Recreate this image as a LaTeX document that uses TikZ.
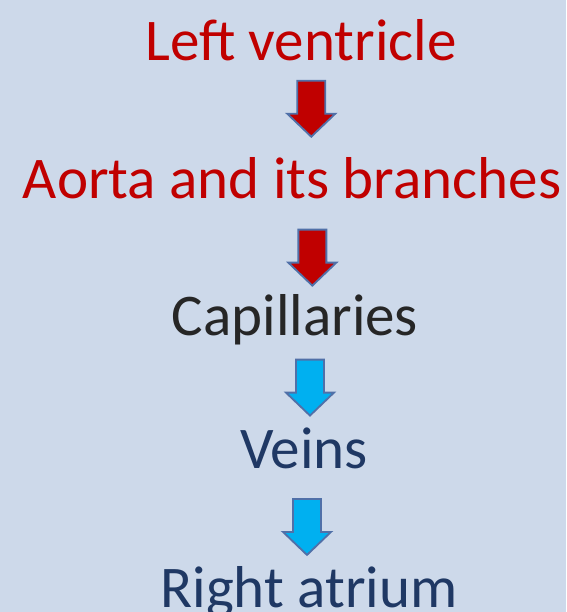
\documentclass[tikz,border=0pt]{standalone}
\usepackage{fontspec}
\setmainfont{Carlito}
\usepackage{xcolor}
\definecolor{panelbg}{HTML}{CDD9EA}
\definecolor{artred}{HTML}{C00000}
\definecolor{capgray}{HTML}{262626}
\definecolor{veinblue}{HTML}{1F3864}
\definecolor{flowblue}{HTML}{00B0F0}
\definecolor{arrowedge}{HTML}{5070A8}

\tikzset{
  stage/.style={font=\fontsize{42}{50}\selectfont, inner sep=0pt, anchor=base},
  flowarrow/.pic={\draw[pic actions, line width=1.3pt, line join=miter]
      (-14,-28) -- (14,-28) -- (14,5) -- (24,5) -- (0,28) -- (-24,5) -- (-14,5) -- cycle;},
}

\begin{document}
\begin{tikzpicture}[x=0.025cm, y=-0.025cm]

    % background
    \fill[panelbg] (0,0) rectangle (566,612);
    \useasboundingbox (0,0) rectangle (566,612);

    % stages of the circulation
    \node[stage, text=artred] (lv) at (301,60) {Left ventricle};
    \node[stage, text=artred] (ao) at (292,198) {Aorta and its branches};
    \node[stage, text=capgray] (cap) at (295,335) {Capillaries};
    \node[stage, text=veinblue] (vn) at (304,468) {Veins};
    \node[stage, text=veinblue] (ra) at (309,607) {Right atrium};

    % block arrows between stages
    \path ([xshift=6]lv.south) -- ([xshift=15]ao.north) pic[midway, fill=artred, draw=arrowedge] {flowarrow};
    \path ([xshift=15]ao.south) -- ([xshift=12]cap.north) pic[pos=.62, fill=artred, draw=arrowedge] {flowarrow};
    \path ([xshift=12]cap.south) -- ([xshift=3]vn.north) pic[pos=.52, fill=flowblue, draw=arrowedge] {flowarrow};
    \path ([xshift=3]vn.south) -- ([xshift=-2]ra.north) pic[pos=.6, fill=flowblue, draw=arrowedge] {flowarrow};

\end{tikzpicture}
\end{document}
